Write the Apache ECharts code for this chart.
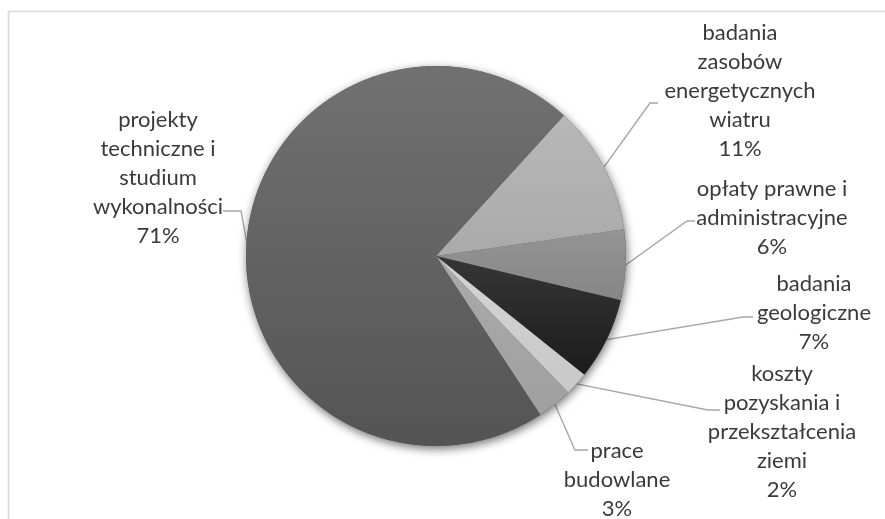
<!DOCTYPE html>
<html>
<head>
<meta charset="utf-8">
<script src="https://cdn.jsdelivr.net/npm/echarts@6/dist/echarts.min.js"></script>
<style>
  html, body { margin: 0; padding: 0; background: #fff; }
  #chart { width: 885px; height: 519px; }
</style>
</head>
<body>
<div id="chart"></div>
<script>
// Cost categories (clockwise from the first slice) and their shares
const categories = [
  'badania\nzasobów\nenergetycznych\nwiatru',
  'opłaty prawne i\nadministracyjne',
  'badania\ngeologiczne',
  'koszty\npozyskania i\nprzekształcenia\nziemi',
  'prace\nbudowlane',
  'projekty\ntechniczne i\nstudium\nwykonalności'
];
const values = [11, 6, 7, 2, 3, 71];

// Slice fills, top and bottom of each vertical gradient
const sliceColors = [
  ['#b8b8b8', '#aaaaaa'],
  ['#949494', '#868686'],
  ['#363636', '#1c1c1c'],
  ['#d3d3d3', '#c9c9c9'],
  ['#aaaaaa', '#a0a0a0'],
  ['#717171', '#545454']
];

// Pie geometry
const CX = 436, CY = 256, R = 190, START = 47.7;

// Label block centres, connector attach points and elbow points
const labelCenters = [[740, 91], [772, 218], [814, 313], [782, 432], [617, 480], [158, 178]];
const labelAttach  = [[658, 103], [695, 221], [753, 317], [720, 410], [588, 450], [223, 211]];
const labelElbow   = [[650, 103], [687, 221], [743, 317], [708, 410], [575, 450], [241, 211]];

const total = values.reduce((a, b) => a + b, 0);

function arcPoint(i) {
  let before = 0;
  for (let k = 0; k < i; k++) before += values[k];
  const mid = (before + values[i] / 2) / total * 360;
  const ang = (START - mid) * Math.PI / 180;
  return [CX + R * Math.cos(ang), CY - R * Math.sin(ang)];
}

const chart = echarts.init(document.getElementById('chart'), null, { renderer: 'canvas' });

chart.setOption({
  backgroundColor: '#ffffff',
  animation: false,
  graphic: [{
    type: 'rect',
    silent: true,
    shape: { x: 8.5, y: 11.5, width: 1200, height: 1200 },
    style: { fill: 'none', stroke: '#d9d9d9', lineWidth: 1.6 }
  }],
  series: [
    {
      // soft drop shadow under the whole pie
      type: 'pie',
      silent: true,
      center: [CX, CY],
      radius: R,
      label: { show: false },
      labelLine: { show: false },
      itemStyle: {
        color: '#5a5a5a',
        shadowBlur: 10,
        shadowOffsetX: 1,
        shadowOffsetY: 3,
        shadowColor: 'rgba(0,0,0,0.55)'
      },
      data: [{ value: total, name: '' }]
    },
    {
      type: 'pie',
      center: [CX, CY],
      radius: R,
      startAngle: START,
      clockwise: true,
      avoidLabelOverlap: false,
      percentPrecision: 0,
      itemStyle: { borderWidth: 0 },
      label: {
        show: true,
        position: 'outside',
        color: '#3a3a3a',
        fontFamily: 'Lato',
        fontSize: 22,
        lineHeight: 29,
        align: 'center',
        formatter: p => p.name + '\n' + Math.round(p.percent) + '%'
      },
      labelLine: {
        show: true,
        lineStyle: { color: '#a6a6a6', width: 1.4 }
      },
      labelLayout: function (params) {
        const i = params.dataIndex;
        return {
          x: labelCenters[i][0],
          y: labelCenters[i][1],
          align: 'center',
          verticalAlign: 'middle',
          labelLinePoints: [arcPoint(i), labelElbow[i], labelAttach[i]]
        };
      },
      data: categories.map((name, i) => ({
        name: name,
        value: values[i],
        itemStyle: {
          color: new echarts.graphic.LinearGradient(0, 0, 0, 1, [
            { offset: 0, color: sliceColors[i][0] },
            { offset: 1, color: sliceColors[i][1] }
          ])
        }
      }))
    }
  ]
});
</script>
</body>
</html>
